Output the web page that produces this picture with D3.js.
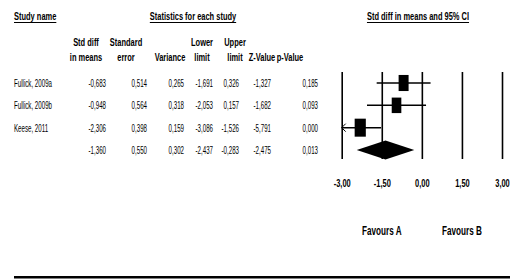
<!DOCTYPE html>
<html>
<head>
<meta charset="utf-8">
<script src="https://cdn.jsdelivr.net/npm/d3@7"></script>
<style>
  body { margin: 0; background: #fff; }
  text { font-family: "Liberation Sans", Arial, sans-serif; fill: #000; }
</style>
</head>
<body>
<svg id="drawing_region"></svg>
<script>
// data
const studies   = ['Fullick, 2009a', 'Fullick, 2009b', 'Keese, 2011'];
const stdDiff   = [-0.683, -0.948, -2.306];
const stdErr    = [0.514, 0.564, 0.398];
const variance  = [0.265, 0.318, 0.159];
const lower     = [-1.691, -2.053, -3.086];
const upper     = [0.326, 0.157, -1.526];
const zValue    = [-1.327, -1.682, -5.791];
const pValue    = [0.185, 0.093, 0.000];
const summary   = { diff: -1.360, se: 0.550, v: 0.302, lo: -2.437, hi: -0.283, z: -2.475, p: 0.013 };
const axisTicks = [-3, -1.5, 0, 1.5, 3];

const W = 510, H = 279;
const loc = d3.formatLocale({ decimal: ',', thousands: '.', grouping: [3], currency: ['', ''], minus: '-' });
const f3 = loc.format('.3f'), f2 = loc.format('.2f');

const svg = d3.select('#drawing_region').attr('width', W).attr('height', H);

const NARROW = 0.56, BOLDN = 0.68;

function txt(x, y, s, o) {
    o = o || {};
    const sx = o.bold ? BOLDN : NARROW;
    return svg.append('text')
        .attr('transform', `translate(${x},${y}) scale(${sx},1)`)
        .attr('text-anchor', o.anchor || 'start')
        .style('font-size', o.size || '11px')
        .style('font-weight', o.bold ? 'bold' : 'normal')
        .text(s);
}

function underlined(x, y, s, anchor) {
    const t = txt(x, y, s, { bold: true, anchor: anchor });
    const w = t.node().getComputedTextLength() * BOLDN;
    const x0 = anchor === 'middle' ? x - w / 2 : x;
    svg.append('line').attr('x1', x0).attr('x2', x0 + w)
        .attr('y1', y + 2.5).attr('y2', y + 2.5)
        .attr('stroke', '#000').attr('stroke-width', 1);
}

// headers
underlined(14, 20, 'Study name', 'start');
underlined(193, 20, 'Statistics for each study', 'middle');
underlined(418, 20, 'Std diff in means and 95% CI', 'middle');

const cols = [
    { c: 86,  r: 106, h: ['Std diff', 'in means'], v: stdDiff,  s: summary.diff },
    { c: 126, r: 147, h: ['Standard', 'error'],    v: stdErr,   s: summary.se },
    { c: 170, r: 184, h: ['', 'Variance'],         v: variance, s: summary.v },
    { c: 202, r: 213, h: ['Lower', 'limit'],       v: lower,    s: summary.lo },
    { c: 235, r: 239, h: ['Upper', 'limit'],       v: upper,    s: summary.hi },
    { c: 262, r: 271, h: ['', 'Z-Value'],          v: zValue,   s: summary.z },
    { c: 290, r: 318, h: ['', 'p-Value'],          v: pValue,   s: summary.p }
];

const yRow = d3.scalePoint().domain(d3.range(4)).range([83, 150]);

cols.forEach(col => {
    if (col.h[0]) txt(col.c, 46, col.h[0], { bold: true, anchor: 'middle' });
    txt(col.c, 61, col.h[1], { bold: true, anchor: 'middle' });
    col.v.forEach((v, i) => txt(col.r, yRow(i) + 4, f3(v), { anchor: 'end' }));
    txt(col.r, yRow(3) + 4, f3(col.s), { anchor: 'end' });
});

studies.forEach((s, i) => txt(14, yRow(i) + 4, s));

// forest plot
const x = d3.scaleLinear().domain([-3, 3]).range([341.7, 502]);
const plotTop = 72, plotBot = 159;

const axis = d3.axisBottom(x)
    .tickValues(axisTicks)
    .tickFormat(f2)
    .tickSizeInner(-(plotBot - plotTop))
    .tickSizeOuter(0)
    .tickPadding(20);

const ag = svg.append('g').attr('transform', `translate(0,${plotBot})`).call(axis);
ag.select('.domain').remove();
ag.selectAll('.tick line').attr('stroke', '#000').attr('stroke-width', 1.6);
ag.selectAll('.tick text')
    .attr('transform', `scale(${BOLDN},1)`)
    .style('font-size', '11px')
    .style('font-weight', 'bold')
    .style('font-family', '"Liberation Sans", Arial, sans-serif');

const weights = variance.map(v => 1 / v);
const hScale = d3.scaleSqrt().domain([d3.min(weights), d3.max(weights)]).range([15.5, 18]);

studies.forEach((s, i) => {
    const y = yRow(i);
    const lo = Math.max(lower[i], -3), hi = Math.min(upper[i], 3);
    svg.append('line')
        .attr('x1', x(lo)).attr('x2', x(hi))
        .attr('y1', y).attr('y2', y)
        .attr('stroke', '#000').attr('stroke-width', 1.5);
    if (lower[i] < -3) {
        svg.append('path')
            .attr('d', `M${x(-3) + 4},${y - 4}L${x(-3)},${y}L${x(-3) + 4},${y + 4}`)
            .attr('fill', 'none').attr('stroke', '#000').attr('stroke-width', 1);
    }
    const h = hScale(weights[i]), w = h * 0.62;
    svg.append('rect')
        .attr('x', x(stdDiff[i]) - w / 2).attr('y', y - h / 2)
        .attr('width', w).attr('height', h)
        .attr('fill', '#000');
});

const ys = yRow(3);
svg.append('path')
    .attr('d', `M${x(summary.lo)},${ys}L${x(summary.diff)},${ys - 9.5}L${x(summary.hi)},${ys}L${x(summary.diff)},${ys + 9.5}Z`)
    .attr('fill', '#000');

txt(x(-1.5), 235, 'Favours A', { bold: true, anchor: 'middle', size: '12px' });
txt(x(1.5), 235, 'Favours B', { bold: true, anchor: 'middle', size: '12px' });

// bottom rule
svg.append('rect').attr('x', 14).attr('y', 276).attr('width', W - 14).attr('height', 2.5).attr('fill', '#000');
</script>
</body>
</html>
